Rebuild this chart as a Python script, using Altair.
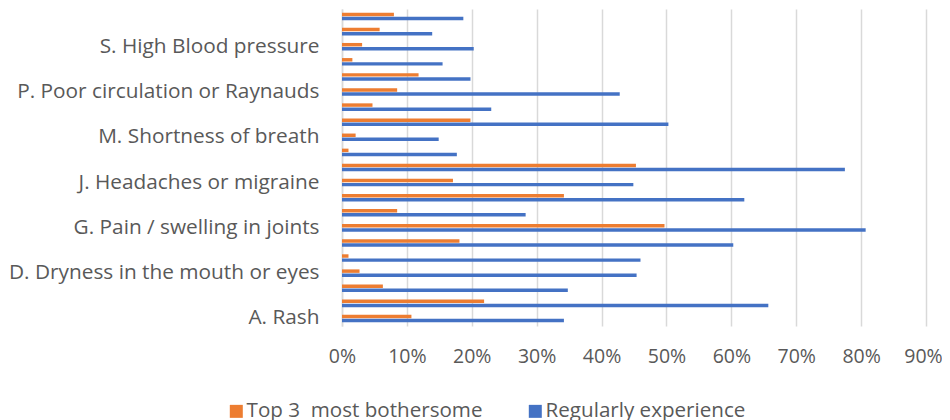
import altair as alt
import pandas as pd

categories = ["A. Rash", "B.", "C.", "D. Dryness in the mouth or eyes", "E.", "F.",
              "G. Pain / swelling in joints", "H.", "I.", "J. Headaches or migraine",
              "K.", "L.", "M. Shortness of breath", "N.", "O.",
              "P. Poor circulation or Raynauds", "Q.", "R.", "S. High Blood pressure",
              "T.", "U."]
top3 = [10.7, 21.9, 6.3, 2.7, 1.0, 18.1, 49.7, 8.5, 34.2, 17.1, 45.3,
        1.0, 2.1, 19.8, 4.7, 8.5, 11.8, 1.6, 3.1, 5.8, 8.0]
regular = [34.2, 65.7, 34.8, 45.4, 46.0, 60.3, 80.7, 28.3, 62.0, 44.9, 77.5,
           17.7, 14.9, 50.3, 23.0, 42.8, 19.8, 15.5, 20.3, 13.9, 18.7]
series = ["Top 3\u00a0 most bothersome", "Regularly experience"]
colors = ["#ED7D31", "#4472C4"]
shown_labels = ["A. Rash", "D. Dryness in the mouth or eyes", "G. Pain / swelling in joints",
                "J. Headaches or migraine", "M. Shortness of breath",
                "P. Poor circulation or Raynauds", "S. High Blood pressure"]

rows = []
for c, a, b in zip(categories, top3, regular):
    rows.append({"cat": c, "series": series[0], "value": a / 100})
    rows.append({"cat": c, "series": series[1], "value": b / 100})
df = pd.DataFrame(rows)

FONT = "Open Sans"
FS = 20.8
TXT = "#595959"

chart = alt.Chart(df).mark_bar().encode(
    x=alt.X("value:Q", scale=alt.Scale(domain=[0, 0.9], nice=False),
            axis=alt.Axis(format="%", values=[i / 10 for i in range(10)], title=None,
                          grid=True, gridColor="#d9d9d9", gridWidth=1.5,
                          domain=False, ticks=False, labelPadding=21,
                          labelFlush=False,
                          labelOffset={"condition": {"test": "datum.value >= 0.89", "value": -3},
                                       "value": 0},
                          labelFont=FONT, labelFontSize=19.5, labelColor=TXT)),
    y=alt.Y("cat:N", sort=categories[::-1],
            scale=alt.Scale(paddingInner=0.5, paddingOuter=0.25),
            axis=alt.Axis(values=shown_labels, title=None, ticks=False,
                          domainColor="#d9d9d9", domainWidth=1.5, labelPadding=23,
                          labelFont=FONT, labelFontSize=FS, labelColor=TXT,
                          labelLimit=500)),
    yOffset=alt.YOffset("series:N", sort=series,
                        scale=alt.Scale(paddingInner=0.15)),
    color=alt.Color("series:N", scale=alt.Scale(domain=series, range=colors),
                    legend=alt.Legend(orient="none", legendX=-116, legendY=392,
                                      direction="horizontal", title=None,
                                      symbolType="square", symbolSize=169,
                                      symbolStrokeWidth=0, labelFont=FONT,
                                      labelFontSize=20.6, labelColor=TXT,
                                      labelLimit=500,
                                      columnPadding=42, labelOffset=0)),
).properties(
    width=584, height=317,
    autosize=alt.AutoSizeParams(type="none"),
    padding={"left": 334, "top": 1, "right": 16, "bottom": 94},
).configure_view(stroke=None)

chart.save("out.html", embed_options={"renderer": "svg", "actions": False})
